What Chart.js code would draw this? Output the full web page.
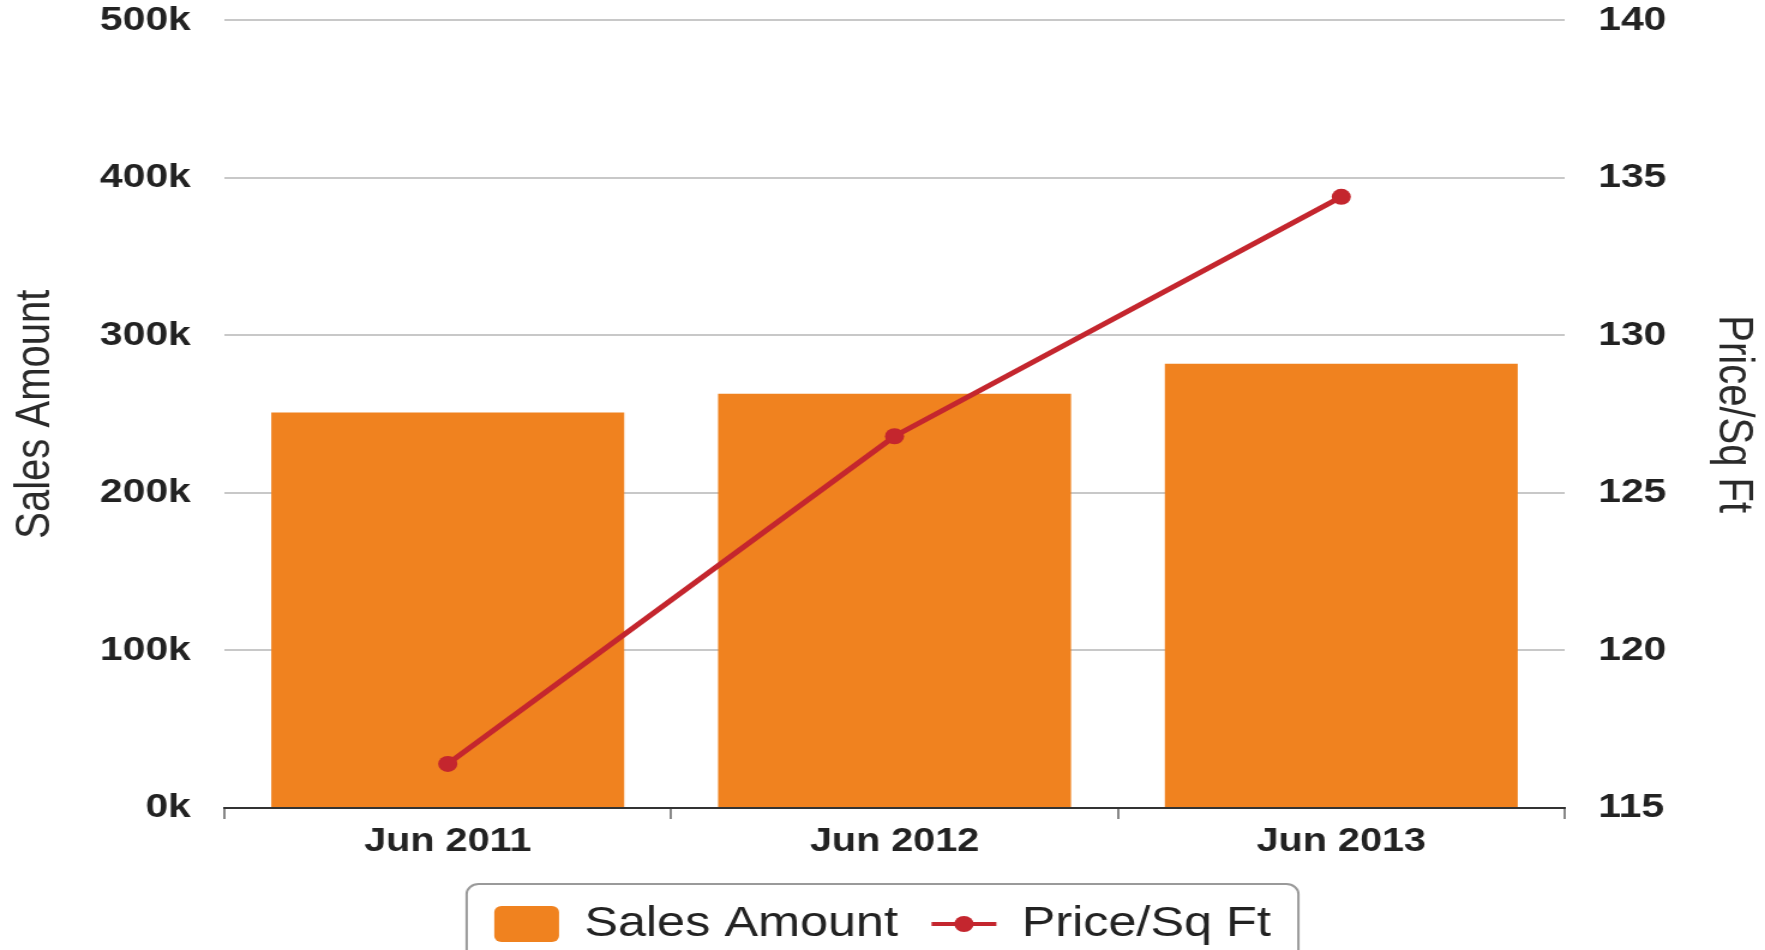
<!DOCTYPE html>
<html>
<head>
<meta charset="utf-8">
<title>Sales Amount and Price/Sq Ft</title>
<script src="https://cdn.jsdelivr.net/npm/chart.js@4.4.1/dist/chart.umd.min.js"></script>
<style>
  html, body { margin: 0; padding: 0; background: #fff; overflow: hidden; }
  /* the reference picture is stretched sideways, so draw narrower and widen it */
  #wrap { width: 1471px; height: 950px; transform: scaleX(1.1999); transform-origin: 0 0; }
</style>
</head>
<body>
<div id="wrap"><canvas id="salesChart"></canvas></div>
<script>
// Chart data
const months = ["Jun 2011", "Jun 2012", "Jun 2013"];
const salesAmount = [251000, 263000, 282000];
const pricePerSqFt = [116.4, 126.8, 134.4];

const ORANGE = "#f0821f";
const RED = "#c4262e";

Chart.defaults.font.family = "'Liberation Sans', Arial, sans-serif";
Chart.defaults.color = "#222";

// Draws the rounded frame round the legend and the line+dot marker
const legendExtras = {
  id: "legendExtras",
  afterDraw(chart) {
    const boxes = chart.legend.legendHitBoxes;
    if (!boxes || boxes.length < 2) return;
    const ctx = chart.ctx;
    const first = boxes[0];
    const last = boxes[boxes.length - 1];
    const midY = first.top + first.height / 2;

    ctx.save();
    // frame
    const x0 = first.left - 23;
    const x1 = last.left + last.width + 23;
    const y0 = midY - 40;
    const y1 = chart.height + 20;
    const r = 10;
    ctx.beginPath();
    ctx.moveTo(x0, y1);
    ctx.lineTo(x0, y0 + r);
    ctx.arcTo(x0, y0, x0 + r, y0, r);
    ctx.lineTo(x1 - r, y0);
    ctx.arcTo(x1, y0, x1, y0 + r, r);
    ctx.lineTo(x1, y1);
    ctx.strokeStyle = "#9a9a9a";
    ctx.lineWidth = 2;
    ctx.stroke();

    // marker for the line series
    const lineBox = boxes[1];
    ctx.beginPath();
    ctx.moveTo(lineBox.left, midY);
    ctx.lineTo(lineBox.left + 54, midY);
    ctx.strokeStyle = RED;
    ctx.lineWidth = 4;
    ctx.stroke();
    ctx.beginPath();
    ctx.arc(lineBox.left + 27, midY, 8, 0, Math.PI * 2);
    ctx.fillStyle = RED;
    ctx.fill();
    ctx.restore();
  },
};

const ctx = document.getElementById("salesChart").getContext("2d");
new Chart(ctx, {
  type: "bar",
  data: {
    labels: months,
    datasets: [
      {
        label: "Sales Amount",
        data: salesAmount,
        backgroundColor: ORANGE,
        yAxisID: "y",
        categoryPercentage: 1,
        barPercentage: 0.79,
      },
      {
        type: "line",
        label: "Price/Sq Ft",
        data: pricePerSqFt,
        borderColor: RED,
        backgroundColor: RED,
        borderWidth: 5,
        pointRadius: 8,
        pointBackgroundColor: RED,
        pointBorderWidth: 0,
        tension: 0,
        yAxisID: "y1",
        order: -1,
      },
    ],
  },
  options: {
    responsive: true,
    maintainAspectRatio: false,
    animation: false,
    layout: { padding: { top: 0, left: 0, right: 0, bottom: -5 } },
    plugins: {
      tooltip: { enabled: false },
      legend: {
        position: "bottom",
        labels: {
          font: { size: 42 },
          color: "#222",
          boxWidth: 54,
          boxHeight: 36,
          padding: 28,
          useBorderRadius: true,
          borderRadius: 6,
          sort: (a, b) => a.datasetIndex - b.datasetIndex,
          generateLabels(chart) {
            const items = Chart.defaults.plugins.legend.labels.generateLabels(chart);
            items.forEach((item) => {
              if (item.datasetIndex === 1) {
                item.fillStyle = "rgba(0,0,0,0)";
                item.strokeStyle = "rgba(0,0,0,0)";
                item.lineWidth = 0;
              }
            });
            return items;
          },
        },
      },
    },
    scales: {
      x: {
        afterFit: (scale) => { scale.height = 67; },
        grid: {
          offset: true,
          drawOnChartArea: false,
          tickLength: 11,
          color: "#888",
          lineWidth: 2,
        },
        border: { color: "#333", width: 2 },
        ticks: { padding: 3, font: { size: 33, weight: "bold" }, color: "#222" },
      },
      y: {
        position: "left",
        min: 0,
        max: 500000,
        afterFit: (scale) => { scale.width = 187; },
        // invisible tick marks keep the labels off the grid
        grid: { color: "#c8c8c8", lineWidth: 2, tickLength: 28, tickColor: "rgba(0,0,0,0)" },
        border: { display: false },
        ticks: {
          stepSize: 100000,
          padding: 0,
          font: { size: 34, weight: "bold" },
          color: "#222",
          callback: (v) => v / 1000 + "k",
        },
        title: {
          display: true,
          text: "Sales Amount",
          font: { size: 40 },
          color: "#2a2a2a",
          padding: { top: 6, bottom: 0 },
        },
      },
      y1: {
        position: "right",
        min: 115,
        max: 140,
        afterFit: (scale) => { scale.width = 167; },
        grid: { drawOnChartArea: false, tickLength: 28, tickColor: "rgba(0,0,0,0)" },
        border: { display: false },
        ticks: {
          stepSize: 5,
          padding: 0,
          font: { size: 34, weight: "bold" },
          color: "#222",
        },
        title: {
          display: true,
          text: "Price/Sq Ft",
          font: { size: 40 },
          color: "#2a2a2a",
          padding: { top: 3, bottom: 0 },
        },
      },
    },
  },
  plugins: [legendExtras],
});
</script>
</body>
</html>
